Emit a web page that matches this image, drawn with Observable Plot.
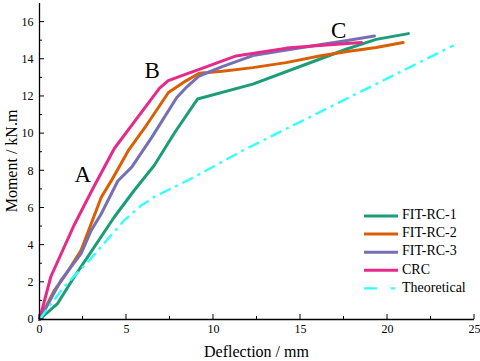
<!DOCTYPE html>
<html><head><meta charset="utf-8">
<script src="https://cdn.jsdelivr.net/npm/d3@7"></script>
<script src="https://cdn.jsdelivr.net/npm/@observablehq/plot@0.6"></script>
<style>
html,body{margin:0;padding:0;background:#fff;}
#chart{width:480px;height:361px;}
#chart text{font-family:'Liberation Serif','Times New Roman',serif;}
</style>
</head><body><div id="chart"></div>
<script>
const seriesNames = ["FIT-RC-1", "FIT-RC-2", "FIT-RC-3", "CRC", "Theoretical"];
const seriesColors = ["#1b9e77", "#d95f02", "#7570b3", "#e7298a", "#33ffff"];

const fit1X = [0, 1.04, 2.0, 2.76, 4.29, 5.44, 6.6, 7.8, 9.08, 12.26, 16.09, 17.62, 19.35, 21.2];
const fit1Y = [0, 0.86, 2.3, 3.36, 5.5, 6.94, 8.3, 10.1, 11.86, 12.66, 14.0, 14.54, 15.07, 15.38];

const fit2X = [0, 0.85, 1.42, 2.39, 2.97, 3.55, 4.13, 5.1, 6.06, 7.41, 8.42, 9.18, 10.5, 12.26, 14.17, 16.09, 17.6, 19.35, 20.9];
const fit2Y = [0, 1.57, 2.29, 3.72, 5.15, 6.58, 7.47, 9.08, 10.33, 12.21, 12.84, 13.25, 13.35, 13.55, 13.82, 14.18, 14.4, 14.63, 14.9];

const fit3X = [0, 1.23, 2.39, 2.97, 3.55, 4.5, 5.3, 6.45, 7.89, 8.42, 9.18, 10.5, 12.26, 14.2, 16.1, 17.6, 19.25];
const fit3Y = [0, 2.1, 3.54, 4.79, 5.69, 7.45, 8.2, 9.8, 11.94, 12.47, 13.1, 13.6, 14.2, 14.5, 14.78, 15.0, 15.25];

const crcX = [0, 0.65, 2.0, 3.1, 4.3, 5.5, 6.9, 7.4, 8.42, 9.3, 11.3, 14.2, 16.9, 18.5];
const crcY = [0, 2.3, 5.1, 7.1, 9.2, 10.7, 12.45, 12.85, 13.2, 13.5, 14.18, 14.6, 14.8, 14.9];

const theoX = [0, 1.4, 2.95, 4.86, 5.8, 6.6, 8.76, 11.66, 23.8];
const theoY = [0, 1.75, 3.27, 5.33, 6.1, 6.6, 7.6, 9.08, 14.75];

const xMajorTicks = [0, 5, 10, 15, 20, 25];
const xMinorTicks = [2.5, 7.5, 12.5, 17.5, 22.5];
const yMajorTicks = [0, 2, 4, 6, 8, 10, 12, 14, 16];
const yMinorTicks = [1, 3, 5, 7, 9, 11, 13, 15];

const annoText = ["A", "B", "C"];
const annoX = [2.49, 6.48, 17.2];
const annoY = [7.82, 13.37, 15.52];

const xsList = [fit1X, fit2X, fit3X, crcX, theoX];
const ysList = [fit1Y, fit2Y, fit3Y, crcY, theoY];
const toRows = (xs, ys) => xs.map((x, i) => ({x, y: ys[i]}));
const annos = annoText.map((t, i) => ({t, x: annoX[i], y: annoY[i]}));

const font = "'Liberation Serif', 'Times New Roman', serif";

const lineMarks = seriesNames.map((name, i) => {
  const theo = name === "Theoretical";
  return Plot.line(toRows(xsList[i], ysList[i]), {
    x: "x", y: "y",
    stroke: seriesColors[i],
    strokeWidth: theo ? 2.4 : 3,
    strokeDasharray: theo ? "12,5,3,5" : null,
    strokeLinejoin: "round",
    strokeLinecap: theo ? "butt" : "round"
  });
});

const chart = Plot.plot({
  width: 480,
  height: 361,
  marginLeft: 39,
  marginRight: 6,
  marginTop: 3,
  marginBottom: 42,
  style: {fontFamily: font, background: "#fff", color: "#000"},
  x: {domain: [0, 25]},
  y: {domain: [0, 17]},
  marks: [
    Plot.axisX({ticks: xMajorTicks, tickSize: 0, tickPadding: 5, fontSize: 12, fontFamily: font, label: null}),
    Plot.axisY({ticks: yMajorTicks, tickSize: 0, tickPadding: 6, fontSize: 12, fontFamily: font, label: null}),
    ...lineMarks,
    Plot.ruleX([0], {stroke: "#000", strokeWidth: 1.3}),
    Plot.ruleY([0], {stroke: "#000", strokeWidth: 1.3}),
    Plot.text(annos, {x: "x", y: "y", text: "t", fontSize: 23, fontFamily: font, fill: "#000"})
  ]
});
chart.setAttribute("font-family", font);
document.getElementById("chart").appendChild(chart);

// inward ticks and axis titles, placed with the plot's own scales
const sx = chart.scale("x"), sy = chart.scale("y");
const svg = d3.select(chart);
const y0 = sy.apply(0), x0 = sx.apply(0);
const g = svg.append("g").attr("stroke", "#000").attr("stroke-width", 1);
xMajorTicks.forEach(v => g.append("line").attr("x1", sx.apply(v)).attr("x2", sx.apply(v)).attr("y1", y0).attr("y2", y0 - 5));
xMinorTicks.forEach(v => g.append("line").attr("x1", sx.apply(v)).attr("x2", sx.apply(v)).attr("y1", y0).attr("y2", y0 - 3));
yMajorTicks.forEach(v => g.append("line").attr("y1", sy.apply(v)).attr("y2", sy.apply(v)).attr("x1", x0).attr("x2", x0 + 5));
yMinorTicks.forEach(v => g.append("line").attr("y1", sy.apply(v)).attr("y2", sy.apply(v)).attr("x1", x0).attr("x2", x0 + 3));

svg.append("text").text("Deflection / mm")
  .attr("x", (sx.apply(0) + sx.apply(25)) / 2).attr("y", 353)
  .attr("text-anchor", "middle").attr("dominant-baseline", "middle")
  .attr("font-family", font).attr("font-size", 16).attr("fill", "#000");
svg.append("text").text("Moment / kN.m")
  .attr("transform", `translate(13,${(sy.apply(0) + sy.apply(17)) / 2}) rotate(-90)`)
  .attr("text-anchor", "middle").attr("dominant-baseline", "middle")
  .attr("font-family", font).attr("font-size", 16).attr("fill", "#000");

// legend
const lg = svg.append("g");
seriesNames.forEach((name, i) => {
  const yy = 216 + i * 18.1;
  const theo = name === "Theoretical";
  lg.append("line").attr("x1", 364).attr("x2", 398).attr("y1", yy).attr("y2", yy)
    .attr("stroke", seriesColors[i]).attr("stroke-width", theo ? 2.4 : 3)
    .attr("stroke-dasharray", theo ? "13,14,4,20" : null);
  lg.append("text").text(name).attr("x", 402).attr("y", yy)
    .attr("text-anchor", "start")
    .attr("dominant-baseline", "middle").attr("font-family", font)
    .attr("font-size", 14).attr("fill", "#000");
});
</script>
</body></html>
